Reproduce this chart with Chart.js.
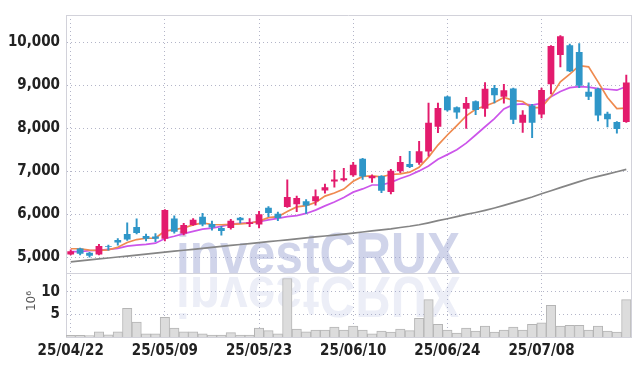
<!DOCTYPE html>
<html>
<head>
<meta charset="utf-8">
<script src="https://cdn.jsdelivr.net/npm/chart.js@4.4.1/dist/chart.umd.min.js"></script>
<style>
  html, body { margin: 0; padding: 0; background: #fff; }
</style>
</head>
<body>
<canvas id="chart" width="639" height="366"></canvas>
<script>
const dates = [
  "25/04/22","25/04/23","25/04/24","25/04/25","25/04/28","25/04/29","25/04/30","25/05/02","25/05/07","25/05/08",
  "25/05/09","25/05/12","25/05/13","25/05/14","25/05/15","25/05/16","25/05/19","25/05/20","25/05/21","25/05/22",
  "25/05/23","25/05/26","25/05/27","25/05/28","25/05/29","25/05/30","25/06/02","25/06/04","25/06/05","25/06/09",
  "25/06/10","25/06/11","25/06/12","25/06/13","25/06/16","25/06/17","25/06/18","25/06/19","25/06/20","25/06/23",
  "25/06/24","25/06/25","25/06/26","25/06/27","25/06/30","25/07/01","25/07/02","25/07/03","25/07/04","25/07/07",
  "25/07/08","25/07/09","25/07/10","25/07/11","25/07/14","25/07/15","25/07/16","25/07/17","25/07/18","25/07/21"
];

const opens = [
  5060,5200,5100,5060,5260,5400,5540,5700,5490,5480,
  5430,5900,5550,5750,5940,5770,5680,5680,5920,5770,
  5760,6150,6010,6170,6230,6300,6300,6555,6760,6790,
  6910,7290,6840,6890,6515,7000,7170,7200,7460,8040,
  8740,8490,8455,8630,8455,8940,8735,8930,8130,8530,
  8325,9025,9710,9935,9780,8855,8925,8340,8150,8150
];
const highs = [
  5170,5210,5110,5300,5280,5430,5800,5890,5540,5550,
  6110,5960,5790,5900,6020,5840,5720,5880,5930,5900,
  6070,6180,6050,6800,6420,6340,6570,6700,7020,7070,
  7210,7300,6920,6900,7045,7350,7465,7695,8590,8590,
  8750,8500,8720,8640,9065,9000,9025,8940,8415,8560,
  8935,9930,10160,9960,9975,9060,8940,8380,8160,9240
];
const lows = [
  5050,5050,5000,5050,5160,5280,5390,5540,5380,5360,
  5380,5560,5520,5740,5730,5630,5510,5650,5790,5710,
  5680,5940,5850,6160,6060,6020,6210,6490,6630,6770,
  6880,6810,6740,6500,6475,6970,7085,7160,7350,7900,
  8400,8230,8000,8320,8280,8590,8585,8110,7905,7785,
  8240,8800,9430,9320,8950,8665,8175,8035,7885,8140
];
const closes = [
  5140,5080,5030,5260,5240,5340,5410,5560,5430,5430,
  6100,5590,5750,5870,5760,5690,5610,5850,5860,5815,
  6000,6030,5910,6400,6380,6200,6420,6630,6810,6840,
  7150,6880,6890,6545,7010,7215,7100,7465,8130,8475,
  8420,8370,8590,8430,8925,8770,8890,8200,8315,8130,
  8895,9920,10145,9330,8990,8735,8300,8210,7985,9065
];

const ma5 = [
  5196,5196,5165,5160,5170,5230,5340,5410,5440,5445,
  5605,5640,5680,5750,5800,5760,5755,5762,5775,5790,
  5838,5920,5943,6065,6170,6198,6275,6422,6493,6585,
  6768,6880,6895,6870,6925,6940,6980,7095,7330,7610,
  7845,8065,8290,8445,8520,8600,8721,8652,8625,8477,
  8490,8745,9085,9265,9460,9433,9082,8717,8460,8470
];
const ma10 = [
  5128,5128,5150,5160,5183,5205,5258,5281,5297,5326,
  5434,5486,5548,5600,5653,5676,5715,5767,5790,5800,
  5829,5868,5904,5943,5966,6018,6096,6194,6285,6390,
  6514,6589,6680,6680,6742,6833,6909,7009,7123,7280,
  7388,7502,7655,7845,8037,8226,8454,8553,8568,8540,
  8584,8735,8858,8949,8972,8960,8926,8911,8888,8975
];
const ma60 = [
  4890,4912,4935,4958,4980,5003,5025,5048,5070,5092,
  5115,5138,5160,5183,5205,5228,5250,5272,5294,5316,
  5338,5360,5382,5404,5426,5448,5470,5492,5515,5538,
  5560,5585,5610,5635,5660,5690,5720,5755,5800,5850,
  5895,5945,5995,6040,6090,6145,6205,6270,6335,6400,
  6475,6545,6620,6690,6760,6825,6880,6935,6990,7045
];

// volume in millions of shares
const volumes = [
  0.35,0.35,0.3,1.15,0.5,1.15,6.3,3.3,0.7,0.7,
  4.35,1.95,1.15,1.15,0.7,0.45,0.45,0.95,0.45,0.45,
  1.95,1.4,0.7,12.9,1.75,1.15,1.5,1.5,2.2,1.5,
  2.4,1.5,0.7,1.3,1.1,1.75,1.4,4.1,8.25,2.8,
  1.5,0.85,1.95,1.3,2.4,1.1,1.5,2.2,1.5,2.8,
  3.1,7.0,2.4,2.6,2.6,1.5,2.4,1.3,1.1,8.25
];

const priceTicks = [5000, 6000, 7000, 8000, 9000, 10000];
const volumeTicks = [5, 10];
const volumeUnit = "10\u2076";
const watermark = "investCRUX";

const UP = "#e31b6d";
const DOWN = "#2f96c8";
const GRID = "#b3b5c8";
const FRAME = "#d2d2da";
const tickFont = {
  family: "'Liberation Sans Narrow', 'DejaVu Sans Condensed', 'Liberation Sans', sans-serif",
  size: 15,
  weight: "bold"
};

const candleColors = opens.map((o, i) => closes[i] >= o ? UP : DOWN);

const watermarkPlugin = {
  id: "watermark",
  beforeDatasetsDraw(chart) {
    const ctx = chart.ctx;
    ctx.save();
    ctx.font = "bold 58px 'Liberation Sans', sans-serif";
    const sx = 284 / ctx.measureText(watermark).width;
    ctx.translate(176, 273);
    ctx.scale(sx, 1);
    ctx.fillStyle = "rgba(150,160,208,0.45)";
    ctx.fillText(watermark, 0, 0);
    ctx.translate(0, 4);
    ctx.scale(1, -1);
    ctx.fillStyle = "rgba(150,160,208,0.18)";
    ctx.fillText(watermark, 0, 0);
    ctx.restore();
  },
  afterDraw(chart) {
    const ctx = chart.ctx;
    const a = chart.chartArea;
    const yv = chart.scales.yv;
    ctx.save();
    ctx.strokeStyle = FRAME;
    ctx.lineWidth = 1;
    ctx.beginPath();
    ctx.moveTo(a.left, a.top + 0.5);
    ctx.lineTo(a.right, a.top + 0.5);
    ctx.moveTo(a.right + 0.5, a.top);
    ctx.lineTo(a.right + 0.5, a.bottom);
    ctx.moveTo(a.left, Math.round(yv.top) + 0.5);
    ctx.lineTo(a.right, Math.round(yv.top) + 0.5);
    ctx.stroke();

    ctx.translate(32, 301);
    ctx.rotate(-Math.PI / 2);
    ctx.font = "12px 'DejaVu Sans', sans-serif";
    ctx.fillStyle = "#555";
    ctx.textAlign = "center";
    ctx.textBaseline = "middle";
    ctx.fillText(volumeUnit, 0, 0);
    ctx.restore();
  }
};

new Chart(document.getElementById("chart"), {
  type: "bar",
  data: {
    labels: dates,
    datasets: [
      {
        label: "body",
        data: opens.map((o, i) => [o, closes[i]]),
        backgroundColor: candleColors,
        barPercentage: 0.72,
        categoryPercentage: 1,
        grouped: false,
        yAxisID: "y",
        order: 0
      },
      {
        label: "wick",
        data: lows.map((l, i) => [l, highs[i]]),
        backgroundColor: candleColors,
        barThickness: 1.3,
        grouped: false,
        yAxisID: "y",
        order: 1
      },
      {
        type: "line",
        label: "MA5",
        data: ma5,
        borderColor: "#ef8a4f",
        borderWidth: 1.7,
        pointRadius: 0,
        yAxisID: "y",
        order: 2
      },
      {
        type: "line",
        label: "MA10",
        data: ma10,
        borderColor: "#cc55ea",
        borderWidth: 1.7,
        pointRadius: 0,
        yAxisID: "y",
        order: 3
      },
      {
        type: "line",
        label: "MA60",
        data: ma60,
        borderColor: "#858585",
        borderWidth: 1.7,
        pointRadius: 0,
        yAxisID: "y",
        order: 4
      },
      {
        label: "volume",
        data: volumes,
        backgroundColor: "#dcdcdc",
        borderColor: "#b5b5b5",
        borderWidth: 1,
        barPercentage: 1,
        categoryPercentage: 1,
        grouped: false,
        yAxisID: "yv",
        order: 5
      }
    ]
  },
  options: {
    responsive: false,
    animation: false,
    layout: { padding: { top: 9, right: 8, left: 0, bottom: 0 } },
    plugins: {
      legend: { display: false },
      tooltip: { enabled: false }
    },
    scales: {
      x: {
        offset: true,
        afterFit: s => { s.height = 29; },
        grid: {
          offset: false,
          drawTicks: false,
          color: c => c.index % 10 === 0 ? GRID : "transparent"
        },
        border: { color: FRAME, dash: [1, 3] },
        ticks: {
          autoSkip: false,
          maxRotation: 0,
          padding: 5,
          color: "#222",
          font: tickFont,
          callback: (v, i) => i % 10 === 0 ? dates[i] : ""
        }
      },
      yv: {
        position: "left",
        stack: "panes",
        stackWeight: 1,
        min: 0,
        max: 14.2,
        afterFit: s => { s.width = 66; },
        afterBuildTicks: s => { s.ticks = volumeTicks.map(v => ({ value: v })); },
        grid: { drawTicks: false, color: GRID },
        border: { color: FRAME, dash: [1, 3] },
        ticks: {
          padding: 6,
          color: "#222",
          font: tickFont
        }
      },
      y: {
        position: "left",
        stack: "panes",
        stackWeight: 4,
        min: 4640,
        max: 10640,
        afterFit: s => { s.width = 66; },
        afterBuildTicks: s => { s.ticks = priceTicks.map(v => ({ value: v })); },
        grid: { drawTicks: false, color: GRID },
        border: { color: FRAME, dash: [1, 3] },
        ticks: {
          padding: 6,
          color: "#222",
          font: tickFont,
          callback: v => v.toLocaleString("en-US")
        }
      }
    }
  },
  plugins: [watermarkPlugin]
});
</script>
</body>
</html>
